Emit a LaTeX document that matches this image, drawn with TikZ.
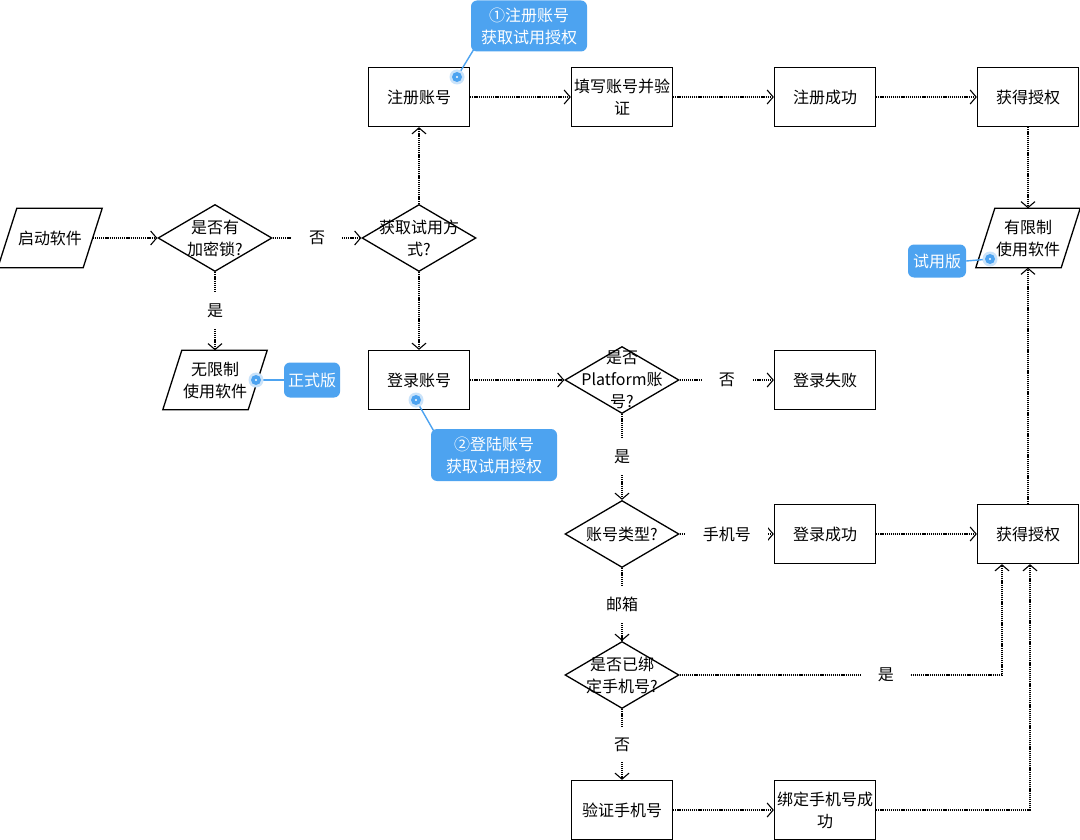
\documentclass[tikz,border=0pt]{standalone}
\usepackage{fontspec}
\setmainfont{Noto Sans CJK SC}
\usetikzlibrary{shapes.geometric,arrows.meta}
\definecolor{tagblue}{HTML}{4DA3F0}
\tikzset{
  base/.style={font=\fontsize{16pt}{22pt}\selectfont, align=center},
  box/.style={base, draw, line width=1.3pt, minimum width=101pt, minimum height=59pt, inner sep=1pt},
  dia/.style={diamond, draw, line width=1.3pt, minimum width=114pt, minimum height=67pt, inner sep=0pt},
  dtext/.style={base, inner sep=0pt},
  para/.style={base, minimum width=85pt, minimum height=59pt, inner sep=0pt},
  flow/.style={dash pattern=on 1.2pt off 0.9pt, line width=1.1pt,
    -{Straight Barb[length=6pt,width=14pt,line width=1.1pt]}},
  lbl/.style={base, fill=white, inner xsep=17pt, inner ysep=11pt},
  tag/.style={base, fill=tagblue, text=white, rounded corners=6pt, inner sep=3pt},
  pinline/.style={tagblue, line width=1.4pt},
}
\begin{document}
\begin{tikzpicture}[x=1pt,y=-1pt]
\useasboundingbox (0,0) rectangle (1080,840);
\fill[white] (0,0) rectangle (1080,840);

% Start and lock check
\node[para] (start) at (50,238) {启动软件};
\node[dia, label={[dtext]center:{是否有\\加密锁?}}] (lock) at (215,238) {};
\node[dia, label={[dtext]center:{获取试用方\\式?}}] (way) at (419,238) {};
\node[para] (full) at (215,380) {无限制\\使用软件};

% Register branch
\node[box] (reg) at (419,97) {注册账号};
\node[box] (fill) at (622,97) {填写账号并验\\证};
\node[box] (regok) at (825,97) {注册成功};
\node[box] (auth1) at (1028,97) {获得授权};
\node[para] (limited) at (1028,238) {有限制\\使用软件};

% Login branch
\node[box] (login) at (419,380) {登录账号};
\node[dia, label={[dtext]center:{是否\\Platform账\\号?}}] (plat) at (622,380) {};
\node[box] (fail) at (825,380) {登录失败};
\node[dia, label={[dtext]center:{账号类型?}}] (type) at (622,534) {};
\node[box] (loginok) at (825,534) {登录成功};
\node[box] (auth2) at (1028,534) {获得授权};
\node[dia, label={[dtext]center:{是否已绑\\定手机号?}}] (bound) at (622,675) {};
\node[box] (verify) at (622,810) {验证手机号};
\node[box] (bindok) at (825,810) {绑定手机号成\\功};

\foreach \p in {start,full,limited}
  \draw[line width=1.3pt] ([xshift=9.5pt]\p.north west) -- ([xshift=9.5pt]\p.north east)
    -- ([xshift=-9.5pt]\p.south east) -- ([xshift=-9.5pt]\p.south west) -- cycle;

% Connectors
\draw[flow] (start.east) -- (lock.west);
\draw[flow] (lock.east) -- node[lbl] {否} (way.west);
\draw[flow] (lock.south) -- node[lbl] {是} (full.north);
\draw[flow] (way.north) -- (reg.south);
\draw[flow] (way.south) -- (login.north);
\draw[flow] (reg) -- (fill);
\draw[flow] (fill) -- (regok);
\draw[flow] (regok) -- (auth1);
\draw[flow] (auth1) -- (limited.north);
\draw[flow] (auth2) -- (limited.south);
\draw[flow] (login.east) -- (plat.west);
\draw[flow] (plat.east) -- node[lbl] {否} (fail.west);
\draw[flow] (plat.south) -- node[lbl] {是} (type.north);
\draw[flow] (type.east) -- node[lbl] {手机号} (loginok.west);
\draw[flow] (loginok) -- (auth2);
\draw[flow] (type.south) -- node[lbl] {邮箱} (bound.north);
\draw[flow] (bound.east) -- node[lbl, pos=0.64] {是} ([xshift=-26pt]auth2.south |- bound.east)
  -- ([xshift=-26pt]auth2.south);
\draw[flow] (bound.south) -- node[lbl] {否} (verify.north);
\draw[flow] (verify) -- (bindok);
\draw[flow] (bindok.east) -- ([xshift=2pt]auth2.south |- bindok.east) -- ([xshift=2pt]auth2.south);

% Blue tags
\node[tag, minimum width=116pt, minimum height=51pt] (c1) at (529,26) {①注册账号\\获取试用授权};
\node[tag, minimum width=126pt, minimum height=52pt] (c2) at (494,455) {②登陆账号\\获取试用授权};
\node[tag, minimum width=56pt, minimum height=35pt] (formal) at (312,380) {正式版};
\node[tag, minimum width=58pt, minimum height=33pt] (trial) at (937,261) {试用版};

\coordinate (dot1) at (457,77);
\coordinate (dot2) at (416,400);
\coordinate (dot3) at (256,380);
\coordinate (dot4) at (990,259);

\draw[pinline] (dot1) -- ([xshift=4pt,yshift=4pt]c1.south west);
\draw[pinline] (dot2) -- ([xshift=4pt,yshift=-4pt]c2.north west);
\draw[pinline] (dot3) -- (formal.west);
\draw[pinline] (dot4) -- (trial.east);

\foreach \d in {dot1,dot2,dot3,dot4} {
  \fill[tagblue!30] (\d) circle (7.5pt);
  \fill[tagblue] (\d) circle (5pt);
  \fill[white] (\d) circle (1.2pt);
}
\end{tikzpicture}
\end{document}
